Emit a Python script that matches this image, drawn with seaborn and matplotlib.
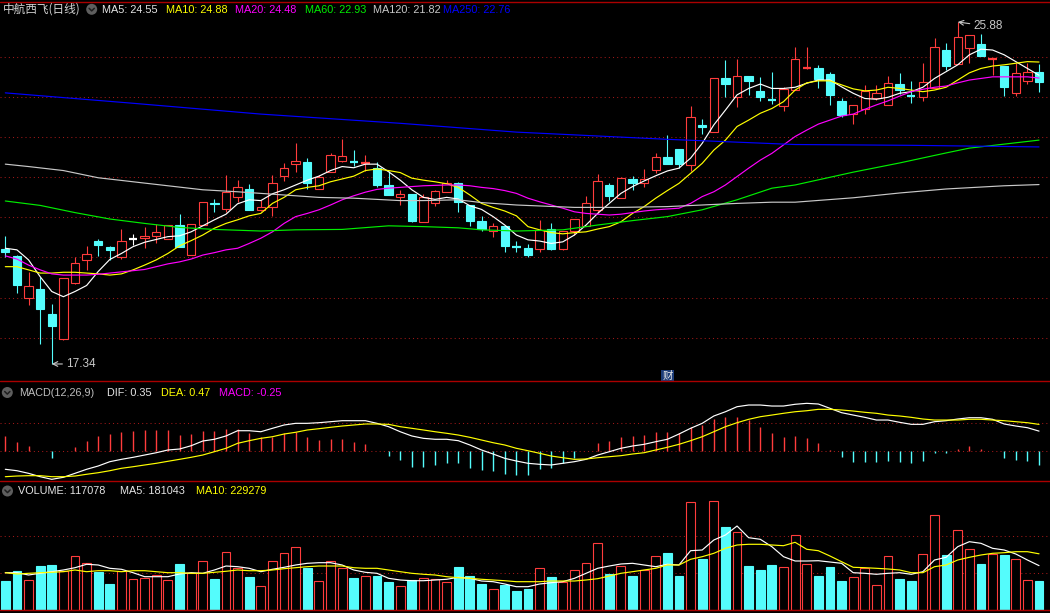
import numpy as np
import seaborn as sns
import matplotlib.pyplot as plt
from matplotlib.patches import Ellipse
from matplotlib.lines import Line2D
import matplotlib.transforms as mtransforms

# ---- daily candles (price, yuan) ----
opens = [20.22, 20.04, 19.00, 19.21, 18.58, 17.97, 19.35, 19.93, 20.41, 20.26,
         20.02, 20.47, 20.49, 20.53, 20.45, 20.80, 20.05, 20.80, 21.37, 21.20,
         21.50, 21.71, 21.19, 21.25, 22.04, 22.33, 22.38, 21.70, 22.13, 22.42,
         22.38, 22.35, 22.23, 21.81, 21.52, 21.58, 20.89, 21.35, 21.64, 21.85,
         21.31, 20.91, 20.66, 20.78, 20.27, 20.23, 20.20, 20.70, 20.20, 20.66,
         20.79, 21.18, 21.80, 21.48, 21.95, 21.85, 22.19, 22.51, 22.71, 22.32,
         23.30, 23.14, 24.48, 24.01, 24.52, 24.16, 23.93, 23.79, 24.18, 24.71,
         24.72, 24.58, 23.91, 23.59, 23.70, 23.99, 23.80, 24.33, 24.03, 24.01,
         24.24, 25.17, 24.82, 25.22, 25.33, 24.96, 24.78, 24.10, 24.41, 24.63]
highs = [20.54, 20.07, 19.63, 19.52, 18.84, 19.48, 20.02, 20.29, 20.47, 20.29,
         20.71, 20.58, 20.76, 20.83, 20.81, 21.08, 20.83, 21.38, 21.45, 22.06,
         21.93, 21.83, 21.44, 22.05, 22.37, 22.86, 22.48, 22.07, 22.60, 22.95,
         22.68, 22.56, 22.38, 22.16, 21.69, 21.58, 21.58, 21.69, 21.93, 21.89,
         21.31, 21.03, 20.86, 20.78, 20.41, 20.33, 20.93, 20.86, 20.67, 20.95,
         21.53, 22.08, 21.85, 22.01, 22.03, 22.20, 22.60, 23.05, 22.71, 23.77,
         23.45, 24.47, 24.93, 24.95, 24.52, 24.51, 24.63, 24.26, 25.26, 25.26,
         24.81, 24.63, 23.99, 23.80, 24.31, 24.30, 24.54, 24.60, 24.41, 24.85,
         25.48, 25.35, 25.88, 25.55, 25.58, 24.97, 24.78, 24.85, 24.85, 24.83]
lows = [20.02, 19.12, 18.81, 17.85, 17.34, 17.94, 19.34, 19.69, 20.04, 19.93,
        19.95, 20.32, 20.24, 20.37, 20.45, 20.27, 20.05, 20.80, 21.14, 21.14,
        21.39, 21.19, 21.17, 21.04, 21.91, 22.13, 21.70, 21.70, 22.13, 22.39,
        22.28, 22.17, 21.75, 21.57, 21.30, 20.89, 20.89, 21.29, 21.64, 21.14,
        20.79, 20.67, 20.52, 20.14, 20.14, 20.02, 20.14, 20.19, 20.19, 20.56,
        20.79, 21.12, 21.42, 21.48, 21.69, 21.75, 22.12, 22.34, 22.23, 22.17,
        23.08, 23.14, 24.01, 23.76, 24.06, 23.91, 23.83, 23.66, 24.18, 24.71,
        24.24, 23.81, 23.50, 23.33, 23.58, 23.93, 23.80, 24.08, 23.86, 23.91,
        24.24, 24.68, 24.82, 24.85, 25.03, 24.56, 24.03, 24.04, 24.33, 24.14]
closes = [20.14, 19.30, 19.28, 18.72, 18.30, 19.48, 19.85, 20.08, 20.32, 20.19,
          20.40, 20.47, 20.54, 20.63, 20.80, 20.27, 20.83, 21.38, 21.33, 21.64,
          21.75, 21.19, 21.25, 21.85, 22.23, 22.41, 21.87, 22.00, 22.55, 22.53,
          22.37, 22.38, 21.81, 21.57, 21.58, 20.92, 21.50, 21.65, 21.85, 21.38,
          20.92, 20.72, 20.78, 20.29, 20.25, 20.06, 20.69, 20.22, 20.66, 20.95,
          21.35, 21.90, 21.54, 21.98, 21.86, 21.95, 22.50, 22.34, 22.33, 23.50,
          23.25, 24.47, 24.34, 24.52, 24.41, 24.01, 23.91, 24.21, 24.95, 24.75,
          24.46, 24.05, 23.56, 23.80, 24.16, 24.10, 24.35, 24.18, 24.01, 24.38,
          25.25, 24.79, 25.50, 25.55, 25.03, 24.97, 24.26, 24.60, 24.64, 24.39]

# ---- moving averages ----
ma5 = [20.23, 20.19, 19.94, 19.52, 19.15, 19.02, 19.15, 19.30, 19.65, 19.95,
       20.10, 20.27, 20.38, 20.45, 20.52, 20.54, 20.64, 20.79, 20.94, 21.08,
       21.34, 21.44, 21.42, 21.59, 21.69, 21.81, 21.93, 22.03, 22.17, 22.27,
       22.24, 22.33, 22.33, 22.14, 21.93, 21.69, 21.50, 21.45, 21.50, 21.46,
       21.29, 21.20, 21.02, 20.81, 20.56, 20.44, 20.41, 20.35, 20.39, 20.56,
       20.81, 21.10, 21.35, 21.60, 21.77, 21.91, 22.04, 22.16, 22.23, 22.48,
       22.85, 23.31, 23.68, 24.06, 24.22, 24.33, 24.22, 24.22, 24.25, 24.35,
       24.43, 24.43, 24.26, 24.10, 23.97, 23.95, 24.00, 24.10, 24.14, 24.25,
       24.47, 24.64, 24.81, 25.06, 25.20, 25.18, 25.06, 24.89, 24.72, 24.55]
ma10 = [19.77, 19.77, 19.69, 19.61, 19.61, 19.63, 19.63, 19.61, 19.59, 19.56,
        19.59, 19.69, 19.81, 19.94, 20.10, 20.29, 20.42, 20.56, 20.73, 20.85,
        20.94, 21.04, 21.10, 21.35, 21.50, 21.69, 21.75, 21.79, 21.89, 21.96,
        22.03, 22.17, 22.21, 22.17, 22.12, 21.98, 21.93, 21.89, 21.84, 21.75,
        21.56, 21.35, 21.25, 21.16, 21.04, 20.77, 20.69, 20.62, 20.59, 20.62,
        20.64, 20.71, 20.77, 20.89, 21.10, 21.27, 21.48, 21.67, 21.85, 22.10,
        22.35, 22.68, 22.93, 23.27, 23.43, 23.60, 23.72, 23.89, 24.18, 24.36,
        24.41, 24.41, 24.31, 24.21, 24.16, 24.18, 24.25, 24.22, 24.18, 24.14,
        24.18, 24.25, 24.43, 24.61, 24.72, 24.78, 24.81, 24.85, 24.89, 24.88]
ma20 = [20.04, 19.96, 19.81, 19.69, 19.59, 19.56, 19.56, 19.56, 19.58, 19.61,
        19.64, 19.67, 19.70, 19.77, 19.84, 19.89, 19.96, 20.06, 20.12, 20.19,
        20.23, 20.35, 20.48, 20.64, 20.85, 21.02, 21.10, 21.19, 21.31, 21.44,
        21.54, 21.63, 21.70, 21.73, 21.75, 21.77, 21.79, 21.80, 21.81, 21.81,
        21.79, 21.75, 21.72, 21.67, 21.60, 21.48, 21.39, 21.31, 21.23, 21.14,
        21.10, 21.08, 21.06, 21.08, 21.12, 21.16, 21.19, 21.21, 21.23, 21.35,
        21.52, 21.64, 21.81, 22.02, 22.23, 22.43, 22.60, 22.81, 23.02, 23.18,
        23.33, 23.43, 23.53, 23.58, 23.70, 23.81, 23.91, 24.03, 24.14, 24.20,
        24.25, 24.28, 24.36, 24.43, 24.47, 24.51, 24.51, 24.51, 24.51, 24.48]
ma60_idx = [0, 3, 6, 9, 12, 15, 18, 22, 25, 29, 33, 36, 39, 41, 44, 48, 51, 54,
            57, 60, 63, 66, 68, 73, 77, 81, 83, 89]
ma60 = [21.41, 21.30, 21.12, 20.96, 20.85, 20.75, 20.70, 20.66, 20.69, 20.70,
        20.79, 20.77, 20.74, 20.69, 20.66, 20.69, 20.81, 20.92, 21.02, 21.19,
        21.44, 21.73, 21.81, 22.13, 22.36, 22.61, 22.73, 22.93]
ma120_idx = [0, 2, 5, 8, 11, 14, 17, 20, 22, 25, 27, 30, 32, 34, 36, 39, 41, 44,
             49, 53, 57, 60, 63, 66, 68, 73, 77, 81, 86, 89]
ma120 = [22.33, 22.27, 22.17, 21.99, 21.89, 21.79, 21.69, 21.64, 21.60, 21.54,
         21.50, 21.48, 21.45, 21.42, 21.42, 21.44, 21.37, 21.31, 21.25, 21.25,
         21.27, 21.31, 21.35, 21.38, 21.38, 21.49, 21.61, 21.71, 21.79, 21.82]
ma250_idx = [0, 11, 22, 34, 44, 57, 68, 78, 89]
ma250 = [24.11, 23.85, 23.58, 23.35, 23.13, 22.95, 22.82, 22.80, 22.76]

# ---- MACD(12,26,9) ----
macd_hist = [0.26, 0.155, 0.084, -0.01, -0.125, 0.0, 0.066, 0.173, 0.26, 0.30,
             0.34, 0.35, 0.37, 0.37, 0.37, 0.28, 0.30, 0.36, 0.35, 0.39,
             0.38, 0.31, 0.24, 0.24, 0.31, 0.33, 0.25, 0.19, 0.21, 0.21,
             0.16, 0.12, 0.0, -0.095, -0.166, -0.286, -0.286, -0.255, -0.214, -0.226,
             -0.30, -0.345, -0.357, -0.416, -0.434, -0.434, -0.333, -0.315, -0.226, -0.125,
             0.0, 0.131, 0.173, 0.238, 0.262, 0.28, 0.328, 0.328, 0.31, 0.417,
             0.458, 0.566, 0.595, 0.607, 0.548, 0.417, 0.321, 0.238, 0.262, 0.22,
             0.143, 0.01, -0.107, -0.196, -0.196, -0.196, -0.179, -0.196, -0.214, -0.179,
             -0.048, -0.036, 0.024, 0.083, 0.024, 0.0, -0.125, -0.166, -0.184, -0.25]
dif = [-0.332, -0.357, -0.404, -0.464, -0.511, -0.475, -0.404, -0.332, -0.273, -0.196,
       -0.154, -0.118, -0.077, -0.036, 0.013, 0.030, 0.089, 0.173, 0.204, 0.263,
       0.357, 0.357, 0.339, 0.400, 0.459, 0.489, 0.489, 0.500, 0.518, 0.536,
       0.536, 0.536, 0.489, 0.429, 0.339, 0.263, 0.221, 0.204, 0.204, 0.179,
       0.102, 0.013, -0.059, -0.136, -0.184, -0.225, -0.243, -0.255, -0.225, -0.196,
       -0.154, -0.077, -0.018, 0.043, 0.084, 0.114, 0.161, 0.204, 0.298, 0.400,
       0.489, 0.620, 0.696, 0.786, 0.816, 0.816, 0.798, 0.798, 0.829, 0.846,
       0.834, 0.757, 0.679, 0.637, 0.596, 0.548, 0.548, 0.507, 0.471, 0.471,
       0.518, 0.536, 0.566, 0.589, 0.589, 0.561, 0.477, 0.441, 0.411, 0.35]
dea = [-0.464, -0.452, -0.446, -0.446, -0.464, -0.464, -0.452, -0.421, -0.393, -0.357,
       -0.314, -0.286, -0.255, -0.225, -0.189, -0.154, -0.118, -0.077, -0.018, 0.043,
       0.132, 0.179, 0.221, 0.250, 0.298, 0.329, 0.370, 0.393, 0.418, 0.441,
       0.459, 0.477, 0.477, 0.471, 0.429, 0.400, 0.370, 0.339, 0.311, 0.280,
       0.239, 0.191, 0.143, 0.102, 0.043, 0.000, -0.046, -0.095, -0.125, -0.154,
       -0.148, -0.125, -0.107, -0.089, -0.059, -0.036, 0.013, 0.061, 0.114, 0.179,
       0.250, 0.339, 0.429, 0.500, 0.561, 0.607, 0.637, 0.668, 0.696, 0.714,
       0.739, 0.739, 0.727, 0.709, 0.686, 0.668, 0.637, 0.620, 0.596, 0.566,
       0.548, 0.548, 0.548, 0.561, 0.561, 0.548, 0.536, 0.518, 0.500, 0.47]

# ---- volume (thousand shares) ----
volume = [118.3, 159.1, 121.2, 179.5, 183.6, 159.1, 219.1, 190.5, 155.0, 106.1,
          159.1, 125.3, 131.8, 141.6, 121.2, 187.7, 149.7, 198.7, 126.5, 235.4,
          170.1, 134.6, 96.7, 198.7, 231.3, 255.8, 171.4, 117.1, 198.7, 172.6,
          130.6, 137.5, 138.7, 114.2, 96.7, 121.2, 130.6, 125.3, 114.2, 175.4,
          138.7, 106.1, 84.5, 102.0, 77.5, 85.7, 170.1, 134.6, 114.2, 162.0,
          190.5, 272.1, 146.9, 178.3, 138.7, 163.2, 219.1, 232.6, 138.7, 439.4,
          208.1, 443.5, 338.6, 317.0, 179.5, 163.2, 183.6, 174.2, 304.8, 186.5,
          138.7, 175.4, 118.3, 133.4, 172.6, 100.8, 219.1, 126.5, 118.3, 227.3,
          386.4, 224.4, 325.2, 247.7, 187.7, 228.5, 224.4, 206.9, 121.2, 117.078]
vol_ma5 = [152.2, 152.2, 142.8, 149.7, 156.3, 163.2, 172.6, 186.5, 183.6, 170.1,
           166.1, 152.2, 135.9, 135.9, 135.9, 146.9, 152.2, 149.7, 163.2, 179.5,
           176.7, 170.1, 156.3, 166.1, 174.2, 183.6, 190.5, 193.0, 193.0, 183.6,
           163.2, 153.8, 149.7, 129.3, 122.4, 119.5, 119.5, 122.4, 125.3, 133.4,
           129.3, 118.3, 115.5, 106.1, 95.1, 95.1, 106.1, 111.4, 115.5, 129.3,
           149.7, 170.1, 179.5, 187.7, 190.5, 183.6, 176.7, 186.5, 183.6, 241.9,
           244.8, 285.6, 306.0, 342.7, 295.0, 288.5, 258.3, 217.5, 199.9, 199.9,
           201.1, 195.8, 190.5, 152.2, 149.7, 145.7, 149.7, 152.2, 145.7, 156.3,
           204.0, 215.0, 258.3, 278.7, 272.1, 251.7, 244.8, 228.5, 204.0, 181.043]
vol_ma10 = [152.2, 146.9, 149.7, 152.2, 153.8, 156.3, 163.2, 156.3, 160.3, 160.3,
            156.3, 160.3, 160.3, 156.3, 152.2, 152.2, 149.7, 149.7, 153.8, 157.9,
            163.2, 160.3, 160.3, 163.2, 168.5, 172.6, 176.7, 179.5, 179.5, 179.5,
            172.6, 170.1, 170.1, 163.2, 156.3, 149.7, 145.7, 142.8, 135.9, 131.8,
            129.3, 125.3, 122.4, 119.5, 115.5, 115.5, 115.5, 118.3, 118.3, 118.3,
            122.4, 127.7, 138.7, 149.7, 156.3, 163.2, 170.1, 183.6, 183.6, 206.9,
            217.5, 231.3, 251.7, 265.2, 268.1, 268.1, 265.2, 262.3, 276.2, 247.7,
            241.9, 220.3, 197.1, 174.2, 172.6, 170.1, 167.3, 163.2, 152.2, 152.2,
            176.7, 183.6, 204.0, 215.0, 224.4, 231.3, 233.8, 237.9, 237.9, 229.279]

report_idx = 57   # the "财" (financial report) marker

UP = '#ff3c3c'
DOWN = '#54fcfc'
FLAT = '#ffffff'
SEP = '#aa0000'
GRID = '#a01818'

sns.set_theme(style='dark', rc={'axes.facecolor': 'black', 'figure.facecolor': 'black'})
plt.rcParams['font.family'] = ['Liberation Sans', 'Noto Sans CJK SC', 'DejaVu Sans']

W, H = 1050, 613
fig = plt.figure(figsize=(W / 100, H / 100), dpi=100, facecolor='black')


def fx(px):
    return px / W


def fy(py):
    return 1 - py / H


ax = fig.add_axes([0, fy(381), 1, (381 - 3) / H])
ax_m = fig.add_axes([0, fy(481), 1, 100 / H])
ax_v = fig.add_axes([0, fy(611), 1, 130 / H])

n = len(closes)
x = np.arange(n)
o, h, l, c = map(np.array, (opens, highs, lows, closes))
col = np.where(c > o, UP, np.where(c < o, DOWN, FLAT))
bw = 0.72

for a in (ax, ax_m, ax_v):
    a.set_facecolor('black')
    a.set_xlim(-5.3 / 11.615, (W - 5.3) / 11.615)
    a.set_axis_off()

ax.set_ylim(16.915, 26.354)
ax_m.set_ylim(-0.541, 1.245)
ax_v.set_ylim(-4.08, 526.3)

# dotted grid
for p in range(18, 26):
    ax.axhline(p, color=GRID, lw=0.75, ls=(0, (1, 3)), zorder=0)
for v in (0.0, 0.49):
    ax_m.axhline(v, color=GRID, lw=0.75, ls=(0, (1, 3)), zorder=0)
for v in (150, 300):
    ax_v.axhline(v, color=GRID, lw=0.75, ls=(0, (1, 3)), zorder=0)

# candles
ax.vlines(x, l, h, colors=col, lw=0.8, zorder=2)
body_lo = np.minimum(o, c)
body_hi = np.maximum(o, c)
flat = (body_hi - body_lo) < 0.04
up = (c > o) & ~flat
dn = (c < o) & ~flat
ax.bar(x[up], (body_hi - body_lo)[up], bottom=body_lo[up], width=bw,
       facecolor='black', edgecolor=UP, lw=0.8, zorder=2.5)
ax.bar(x[dn], (body_hi - body_lo)[dn], bottom=body_lo[dn], width=bw,
       facecolor=DOWN, edgecolor=DOWN, lw=0.8, zorder=2.5)
ax.hlines(((o + c) / 2)[flat], x[flat] - bw / 2, x[flat] + bw / 2,
          colors=col[flat], lw=1.6, zorder=2.5)

# moving averages
ma_specs = [
    ('MA5', x, ma5, '#ffffff'),
    ('MA10', x, ma10, '#ffff00'),
    ('MA20', x, ma20, '#ff00ff'),
    ('MA60', ma60_idx, ma60, '#00ee00'),
    ('MA120', ma120_idx, ma120, '#c8c8c8'),
    ('MA250', ma250_idx, ma250, '#0000ff'),
]
for name, xs, ys, cc in ma_specs:
    sns.lineplot(x=list(xs), y=ys, ax=ax, color=cc, lw=0.85, zorder=3, sort=False)
ax.set_axis_off()

# high / low annotations
lab = '#c8c8c8'
lo_i = int(np.argmin(l))
ax.annotate(f'{l[lo_i]:.2f}', xy=(lo_i, l[lo_i]), xytext=(10, 0), textcoords='offset points',
            color=lab, fontsize=8.5, va='center', ha='left',
            arrowprops=dict(arrowstyle='->', color=lab, lw=0.8, shrinkA=0, shrinkB=0))
hi_i = int(np.argmax(h))
ax.annotate(f'{h[hi_i]:.2f}', xy=(hi_i, h[hi_i]), xytext=(11, -3), textcoords='offset points',
            color=lab, fontsize=8.5, va='center', ha='left',
            arrowprops=dict(arrowstyle='->', color=lab, lw=0.8, shrinkA=0, shrinkB=0))

tr = mtransforms.blended_transform_factory(ax.transData, ax.transAxes)
ax.text(report_idx, 0.014, '财', transform=tr, ha='center', va='center', color='#e8e8e8',
        fontsize=7.5, family=['Noto Sans CJK SC', 'DejaVu Sans'],
        bbox=dict(boxstyle='square,pad=0.1', facecolor='#1c3c78', edgecolor='none'))

# MACD panel
hist = np.array(macd_hist)
ax_m.vlines(x, 0, hist, colors=np.where(hist >= 0, UP, DOWN), lw=1.0, zorder=2)
sns.lineplot(x=x, y=dif, ax=ax_m, color='#ffffff', lw=0.85, zorder=3, sort=False)
sns.lineplot(x=x, y=dea, ax=ax_m, color='#ffff00', lw=0.85, zorder=3, sort=False)
ax_m.set_axis_off()

# volume panel
vol = np.array(volume)
vup = c >= o
ax_v.bar(x[vup], vol[vup], width=0.76, facecolor='black', edgecolor=UP, lw=0.8, zorder=2)
ax_v.bar(x[~vup], vol[~vup], width=0.76, facecolor=DOWN, edgecolor=DOWN, lw=0.8, zorder=2)
sns.lineplot(x=x, y=vol_ma5, ax=ax_v, color='#ffffff', lw=0.85, zorder=3, sort=False)
sns.lineplot(x=x, y=vol_ma10, ax=ax_v, color='#ffff00', lw=0.85, zorder=3, sort=False)
ax_v.set_axis_off()

# panel separators
for py in (1.5, 381, 481, 610):
    fig.add_artist(Line2D([0, 1], [fy(py), fy(py)], color=SEP, lw=1.0, transform=fig.transFigure))


def icon(cx, cy):
    fig.add_artist(Ellipse((fx(cx), fy(cy)), 11 / W, 11 / H, transform=fig.transFigure,
                           facecolor='#5e5e5e', edgecolor='none'))
    fig.add_artist(Line2D([fx(cx - 2.6), fx(cx), fx(cx + 2.6)],
                          [fy(cy - 1.0), fy(cy + 1.6), fy(cy - 1.0)],
                          color='#1e1e1e', lw=1.1, transform=fig.transFigure))


# header texts
fs = 7.8
fig.text(fx(3), fy(12.7), '中航西飞(日线)', color='#d4d4d4', fontsize=8.4,
         family=['Noto Sans CJK SC', 'DejaVu Sans'], va='baseline')
icon(91.7, 9.3)
head_x = [102, 166, 235, 305, 373, 443]
for (name, xs, ys, cc), px in zip(ma_specs, head_x):
    tc = '#e6e6e6' if name == 'MA5' else cc
    fig.text(fx(px), fy(12.7), f'{name}: {ys[-1]:.2f}', color=tc, fontsize=fs, va='baseline')

icon(7.3, 392.5)
fig.text(fx(19), fy(396), 'MACD(12,26,9)', color='#bdbdbd', fontsize=fs, va='baseline')
fig.text(fx(107), fy(396), f'DIF: {dif[-1]:.2f}', color='#e6e6e6', fontsize=fs, va='baseline')
fig.text(fx(161), fy(396), f'DEA: {dea[-1]:.2f}', color='#ffff00', fontsize=fs, va='baseline')
fig.text(fx(219), fy(396), f'MACD: {macd_hist[-1]:.2f}', color='#ff00ff', fontsize=fs, va='baseline')

icon(7.5, 491)
fig.text(fx(18), fy(494.5), f'VOLUME: {volume[-1] * 1000:.0f}', color='#e6e6e6', fontsize=fs, va='baseline')
fig.text(fx(120), fy(494.5), f'MA5: {vol_ma5[-1] * 1000:.0f}', color='#e6e6e6', fontsize=fs, va='baseline')
fig.text(fx(196), fy(494.5), f'MA10: {vol_ma10[-1] * 1000:.0f}', color='#ffff00', fontsize=fs, va='baseline')

fig.savefig('out.png', dpi=100, facecolor='black')
